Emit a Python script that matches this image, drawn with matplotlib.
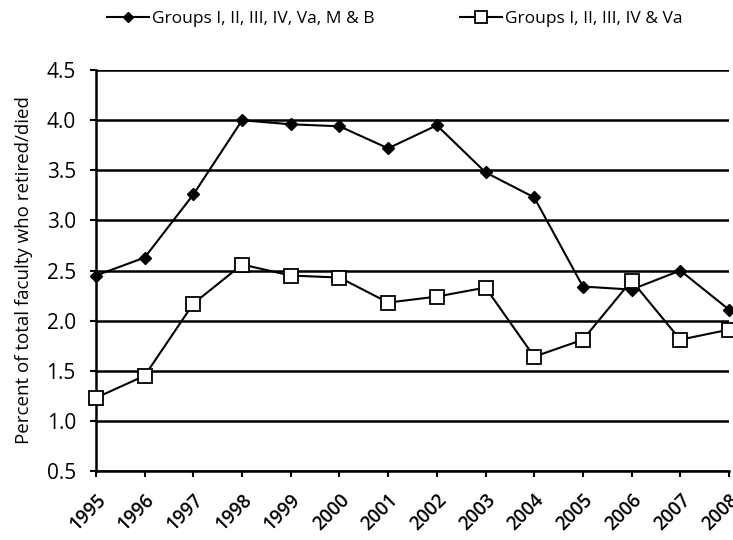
import numpy as np
import matplotlib.pyplot as plt
from matplotlib.transforms import offset_copy

years = ['1995', '1996', '1997', '1998', '1999', '2000', '2001',
         '2002', '2003', '2004', '2005', '2006', '2007', '2008']
all_groups = [2.45, 2.63, 3.26, 4.00, 3.96, 3.94, 3.72,
              3.95, 3.48, 3.23, 2.34, 2.31, 2.50, 2.11]
core_groups = [1.23, 1.45, 2.17, 2.56, 2.45, 2.43, 2.18,
               2.24, 2.33, 1.64, 1.81, 2.40, 1.81, 1.91]

plt.rcParams['font.family'] = ['Open Sans', 'DejaVu Sans']

fig = plt.figure(figsize=(7.33, 5.4), dpi=100)
ax = fig.add_axes([0.131, 0.128, 0.8635, 0.742])

x = np.arange(len(years))
l1, = ax.plot(x, all_groups, color='black', lw=1.5, marker='D', ms=6.5,
              mfc='black', mec='black', clip_on=False, zorder=4)
l2, = ax.plot(x, core_groups, color='black', lw=1.5, marker='s', ms=9.5,
              mfc='white', mec='black', mew=1.3, clip_on=False, zorder=5)

ax.set_xlim(0, len(years) - 1)
ax.set_ylim(0.5, 4.5)
ticks = np.arange(0.5, 4.51, 0.5)
ax.set_yticks(ticks)
ax.set_yticklabels(['%.1f' % v for v in ticks], fontsize=15)
ax.set_xticks(x)
ax.set_xticklabels([])
# year labels placed by hand under each tick, rotated 45 deg
lab_tr = offset_copy(ax.get_xaxis_transform(), fig=fig, x=0, y=-19, units='dots')
for xi, yr in zip(x, years):
    ax.text(xi, 0, yr, transform=lab_tr, rotation=45, ha='right', va='top',
            rotation_mode='anchor', fontsize=13.5, fontweight='semibold')
ax.tick_params(axis='x', direction='out', length=4.5, width=1.5)
ax.tick_params(axis='y', direction='out', length=4.5, width=1.5, pad=10)
ax.yaxis.grid(True, color='black', lw=1.8)
ax.set_axisbelow(True)
for s in ['top', 'right']:
    ax.spines[s].set_visible(False)
for s in ['left', 'bottom']:
    ax.spines[s].set_linewidth(1.8)
ax.set_ylabel('Percent of total faculty who retired/died', fontsize=13.5, labelpad=10)

leg_font = {'size': 12.5}
fig.legend([l1], ['Groups I, II, III, IV, Va, M & B'], loc='center left',
           bbox_to_anchor=(0.146, 0.965), frameon=False, prop=leg_font,
           handlelength=2.4, handletextpad=0.2, markerscale=0.85,
           borderaxespad=0, borderpad=0)
fig.legend([l2], ['Groups I, II, III, IV & Va'], loc='center left',
           bbox_to_anchor=(0.628, 0.965), frameon=False, prop=leg_font,
           handlelength=2.4, handletextpad=0.2, markerscale=0.85,
           borderaxespad=0, borderpad=0)

fig.savefig('out.png', dpi=100)
